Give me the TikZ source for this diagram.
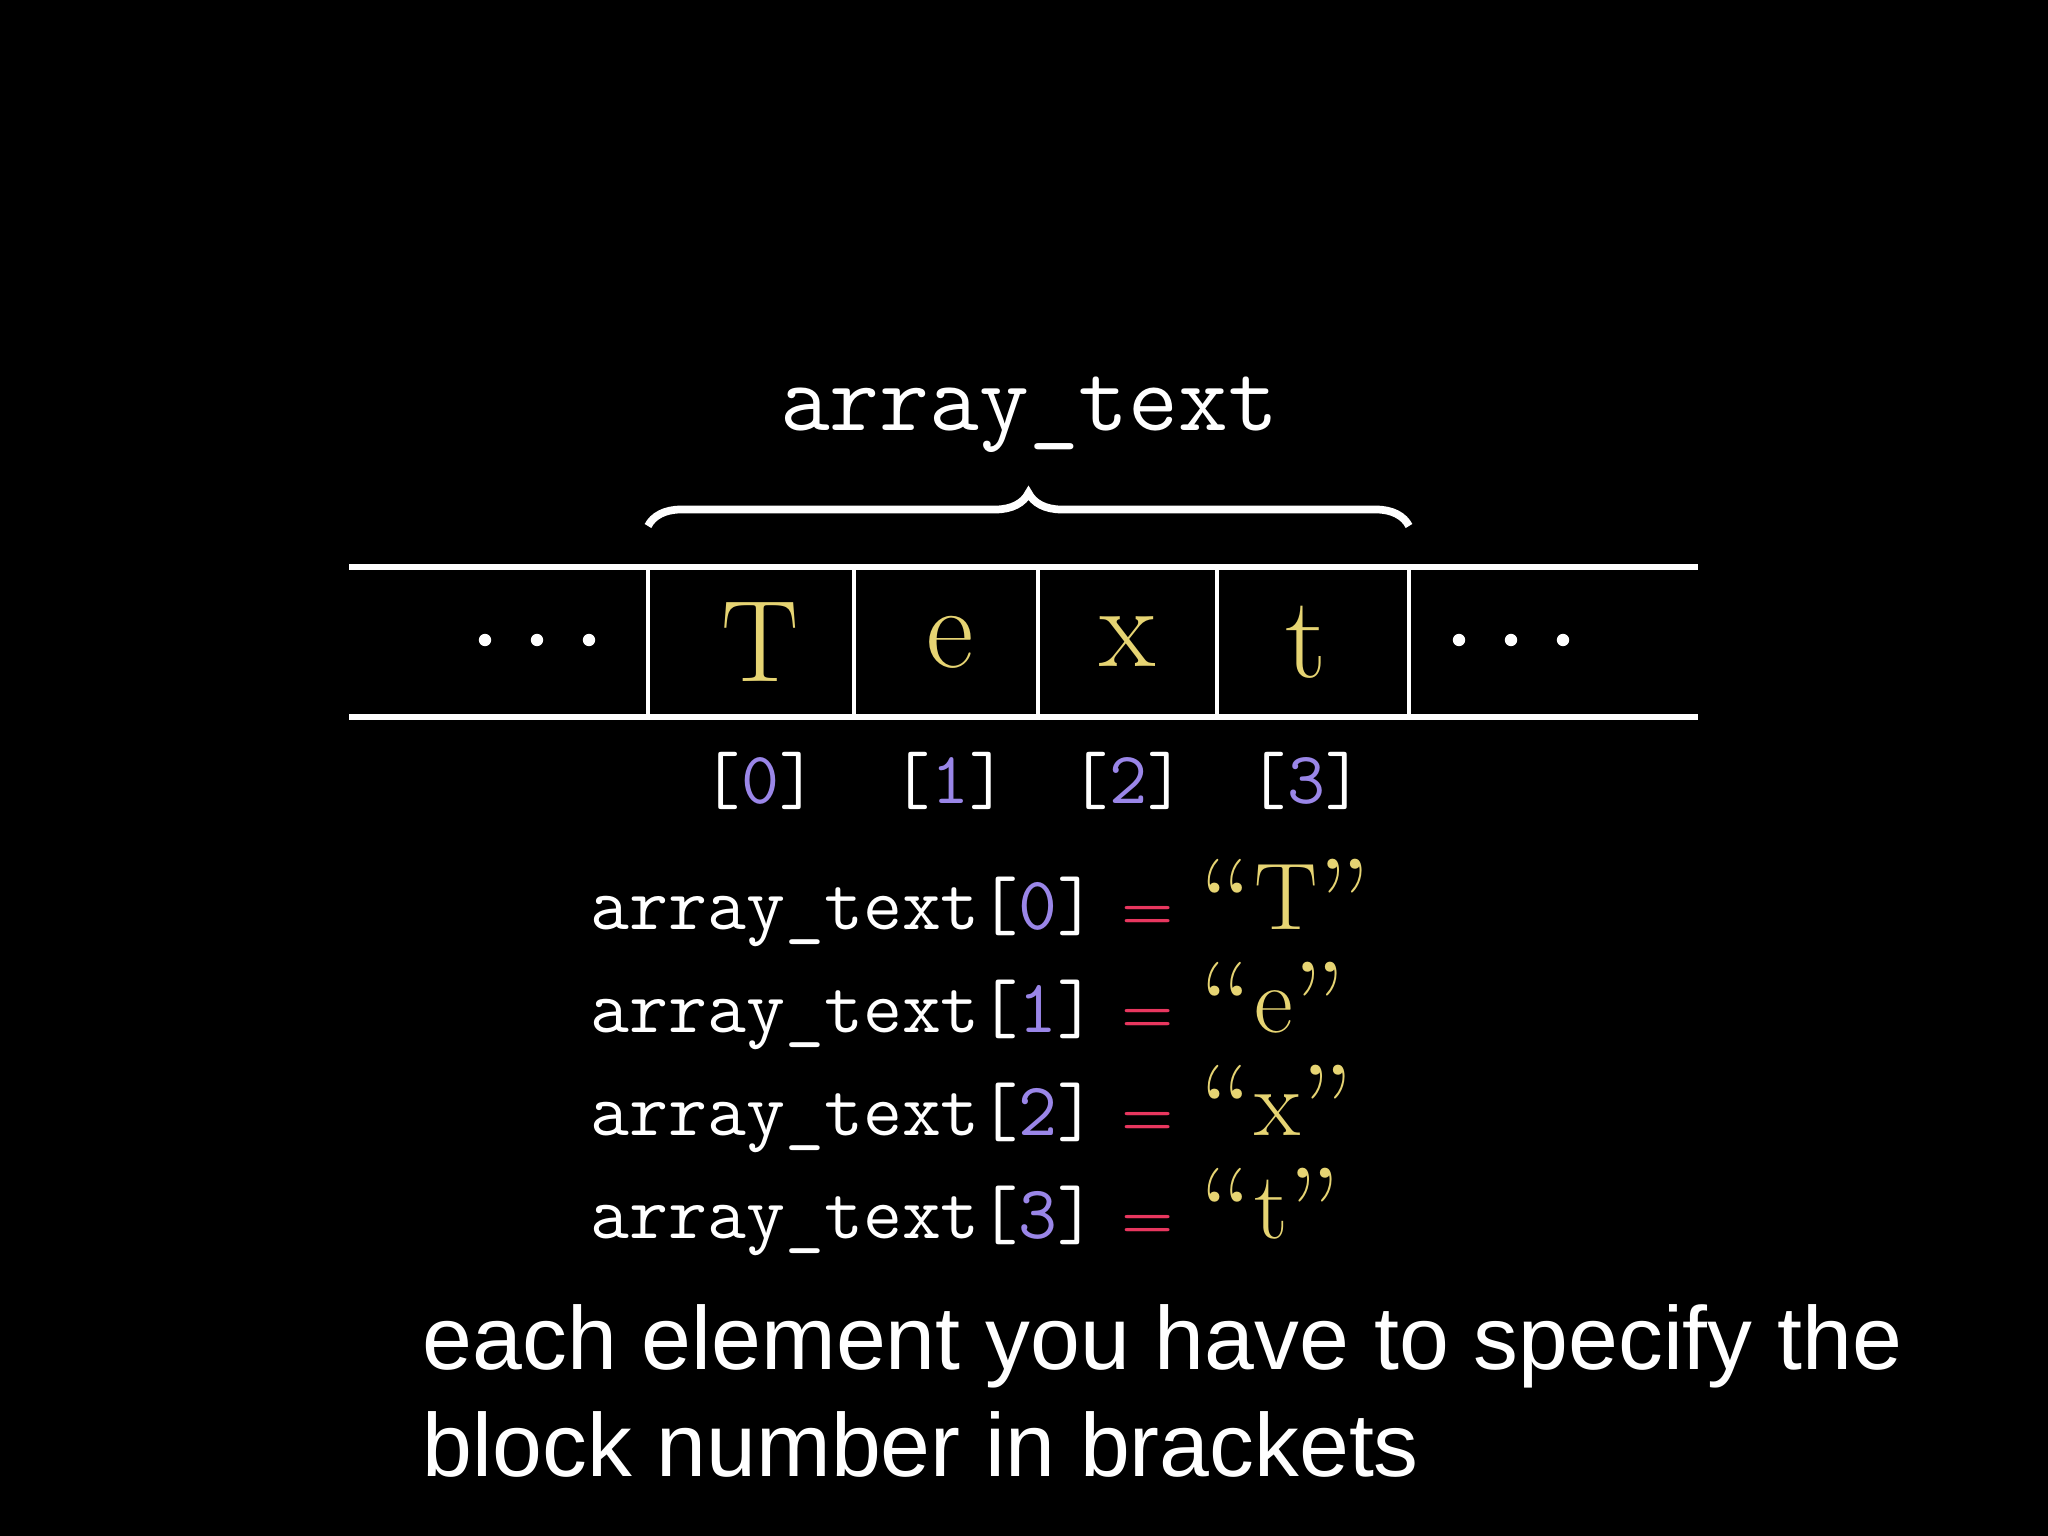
\documentclass[tikz,border=0pt]{standalone}
\usepackage{fontspec}
\usetikzlibrary{decorations.pathreplacing}
\newfontfamily\capfont{Liberation Sans}
\definecolor{lettercol}{RGB}{230,212,115}
\definecolor{idxcol}{RGB}{154,134,232}
\definecolor{eqcol}{RGB}{232,55,95}
\newcommand\quoted[1]{\raisebox{-4.5pt}{\fontsize{35}{35}\selectfont``}\kern0.01em#1\raisebox{-4.5pt}{\fontsize{35}{35}\selectfont''}}
\begin{document}
\begin{tikzpicture}[
    rowline/.style={white, line width=1.6pt},
    divline/.style={white, line width=1.2pt},
    cell/.style={inner sep=0pt, text=lettercol, font=\fontsize{33}{33}\selectfont},
    idx/.style={inner sep=0pt, text=white, font=\ttfamily\fontsize{21}{21}\selectfont},
    eqrow/.style={inner sep=0pt, anchor=base west, text=white, font=\fontsize{21.5}{21.5}\selectfont},
    captext/.style={inner sep=0pt, anchor=base west, text=white, font=\capfont\fontsize{25.5}{25.5}\selectfont}]
    % background
    \fill[black] (0,0) rectangle (20.48,-15.36);
    % name of the array
    \node[inner sep=0pt, anchor=base, text=white, font=\ttfamily\fontsize{27.5}{27.5}\selectfont] (title) at (10.29,-4.31) {array\_text};
    % the strip of memory
    \draw[rowline] (3.49,-5.67) -- (16.98,-5.67);
    \draw[rowline] (3.49,-7.17) -- (16.98,-7.17);
    \foreach \x in {6.48,8.54,10.38,12.17,14.09} {
        \draw[divline] (\x,-5.67) -- (\x,-7.17);
    }
    \coordinate (bl) at (6.48,-5.26);
    \coordinate (br) at (14.09,-5.26);
    \draw[white, line width=2.2pt, decorate, decoration={brace, amplitude=0.33cm}] (bl) -- (br);
    % the dots on both sides
    \foreach \x in {4.85,5.37,5.89,14.59,15.11,15.63} {
        \fill[white] (\x,-6.40) circle (0.062);
    }
    \foreach \x/\c [count=\i from 0] in {7.60/T,9.50/e,11.28/x,13.06/t} {
        \node[cell] (c\i) at (\x,-6.42) {\c};
        \node[idx] (i\i) at (\x,-7.81) {[\textcolor{idxcol}{\i}]};
    }
    % one line per element
    \foreach \c [count=\i from 0] in {T,e,x,t} {
        \node[eqrow] (eq\i) at (5.90,{-9.29-1.03*\i})
            {{\ttfamily array\_text[\textcolor{idxcol}{\i}]}\hspace{0.25cm}\textcolor{eqcol}{\fontsize{17}{17}\selectfont\bfseries =}\hspace{0.26cm}{\fontsize{27}{27}\selectfont\color{lettercol}\quoted{\c}}};
    }
    % subtitle
    \node[captext] (cap1) at (4.22,-13.69) {each element you have to specify the};
    \node[captext] (cap2) at (4.22,-14.76) {block number in brackets};
\end{tikzpicture}
\end{document}
